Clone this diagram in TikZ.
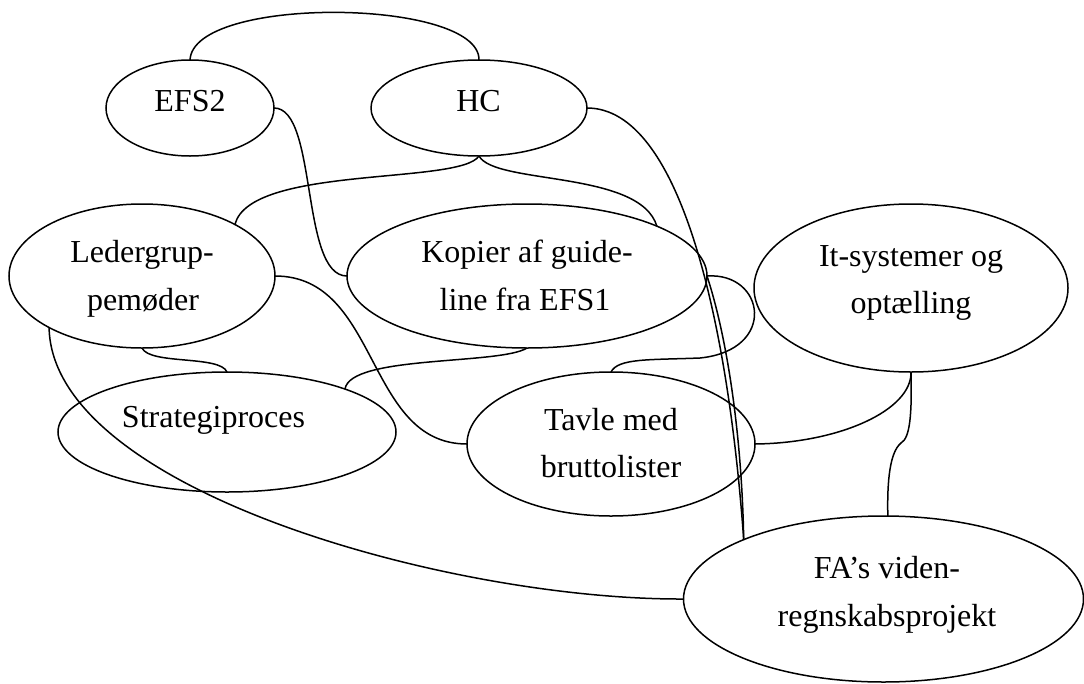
\documentclass[tikz,border=0pt]{standalone}
\usepackage{fontspec}
\setmainfont{Liberation Serif}
\usetikzlibrary{shapes.geometric}
\begin{document}
\begin{tikzpicture}[x=1pt,y=-1pt,
  bubble/.style={draw, ellipse, inner sep=0pt, outer sep=0pt, line width=1.5pt},
  link/.style={line width=1.5pt},
  lbl/.style={anchor=base, inner sep=0pt, font=\fontsize{32}{48}\selectfont}]
\useasboundingbox (0,0) rectangle (1084,683);

% concept bubbles
\node[bubble, minimum width=168pt, minimum height=96pt]  (efs2) at (190,108) {};
\node[bubble, minimum width=216pt, minimum height=96pt]  (hc)   at (479,108) {};
\node[bubble, minimum width=266pt, minimum height=144pt] (led)  at (142,276) {};
\node[bubble, minimum width=360pt, minimum height=144pt] (kop)  at (527,276) {};
\node[bubble, minimum width=314pt, minimum height=168pt] (its)  at (911,288) {};
\node[bubble, minimum width=338pt, minimum height=120pt] (str)  at (227,432) {};
\node[bubble, minimum width=288pt, minimum height=144pt] (tav)  at (611,444) {};
\node[bubble, minimum width=400pt, minimum height=166pt] (fa)   at (883.5,599) {};

% labels, set line by line on their baselines
\node[lbl] (efs2-t) at (190,111) {EFS2};
\node[lbl] (hc-t)   at (478.5,111) {HC};
\node[lbl] (led-t1) at (142,262) {Ledergrup-};
\node[lbl] (led-t2) at (143,310) {pemøder};
\node[lbl] (kop-t1) at (527,262) {Kopier af guide-};
\node[lbl] (kop-t2) at (525,310) {line fra EFS1};
\node[lbl] (its-t1) at (911,266) {It-systemer og};
\node[lbl] (its-t2) at (911,313) {optælling};
\node[lbl] (str-t)  at (213.5,427) {Strategiproces};
\node[lbl] (tav-t1) at (611,430) {Tavle med};
\node[lbl] (tav-t2) at (611,477) {bruttolister};
\node[lbl] (fa-t1)  at (887,578) {FA’s viden-};
\node[lbl] (fa-t2)  at (887,626) {regnskabsprojekt};

% bend points
\coordinate (loop) at (700,358);
\coordinate (kink) at (901,443);

% connections
\draw[link] (efs2.north) .. controls (193,-5) and (480,-2) .. (hc.north);
\draw[link] (efs2.east) .. controls (318,108) and (300,276) .. (kop.west);
\draw[link] (hc.south) .. controls (460,185) and (250,165) .. (led.29.6);
\draw[link] (hc.south) .. controls (495,185) and (640,170) .. (kop.21.7);
\draw[link] (hc.east) .. controls (680,108) and (728,320) .. (fa.157.4);
\draw[link] (kop.east) .. controls (728,340) and (742,440) .. (fa.157.4);
\draw[link] (kop.east) .. controls (765,272) and (778,350) .. (loop)
                       .. controls (650,360) and (618,358) .. (tav.north);
\draw[link] (kop.south) .. controls (500,365) and (350,355) .. (str.20.4);
\draw[link] (led.east) .. controls (380,276) and (365,444) .. (tav.west);
\draw[link] (led.south) .. controls (150,365) and (220,355) .. (str.north);
\draw[link] (led.209) .. controls (52,490) and (450,600) .. (fa.west);
\draw[link] (tav.east) .. controls (840,443) and (912,410) .. (its.south);
\draw[link] (its.south) .. controls (912,415) and (910,438) .. (kink)
                        .. controls (890,452) and (887,480) .. (fa.87.6);
\end{tikzpicture}
\end{document}
